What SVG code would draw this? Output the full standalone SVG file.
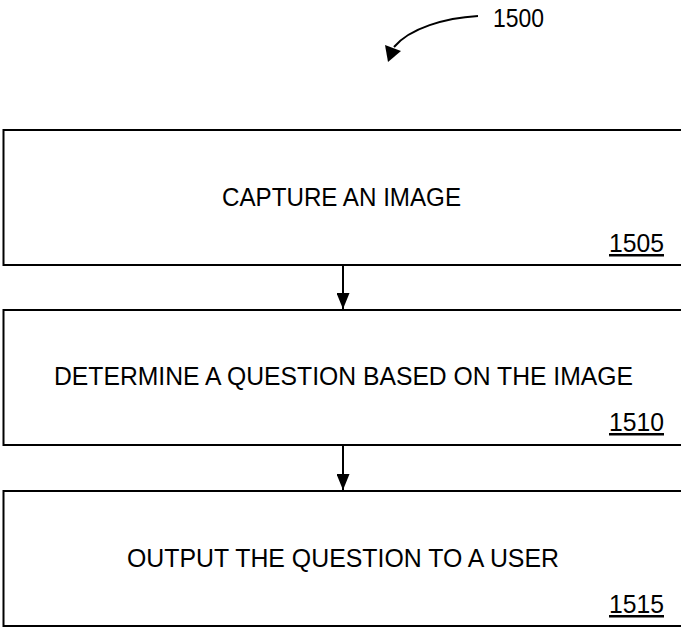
<svg xmlns="http://www.w3.org/2000/svg" width="681" height="628" viewBox="0 0 681 628">
<style>
.box{fill:#fff;stroke:#000;stroke-width:2}
.t{font-family:"Liberation Sans",Arial,sans-serif;font-size:25px;fill:#000}
.n{font-family:"Liberation Sans",Arial,sans-serif;font-size:25px;fill:#000;text-decoration:underline}
.ln{stroke:#000;stroke-width:2;fill:none}
</style>
<defs>
<marker id="ah" markerWidth="16" markerHeight="13" refX="16" refY="6.5" orient="auto" markerUnits="userSpaceOnUse" viewBox="0 0 16 13">
<path d="M0,0 L16,6.5 L0,13 Z" fill="#000"/>
</marker>
</defs>
<rect width="681" height="628" fill="#fff"/>
<g id="ref1500">
<path class="ln" d="M478,16 C445,18 410,28 394,47"/>
<polygon points="388,62 385,45 401,51" fill="#000"/>
<text class="t" x="493" y="27" textLength="51" lengthAdjust="spacingAndGlyphs">1500</text>
</g>
<g id="n1505">
<rect class="box" x="3.5" y="130" width="700" height="135"/>
<text class="t" x="222" y="206" textLength="239" lengthAdjust="spacingAndGlyphs">CAPTURE AN IMAGE</text>
<text class="n" x="609" y="252" textLength="55" lengthAdjust="spacingAndGlyphs">1505</text>
</g>
<g id="n1510">
<rect class="box" x="3.5" y="310" width="700" height="135"/>
<text class="t" x="54" y="385" textLength="579" lengthAdjust="spacingAndGlyphs">DETERMINE A QUESTION BASED ON THE IMAGE</text>
<text class="n" x="609" y="431" textLength="55" lengthAdjust="spacingAndGlyphs">1510</text>
</g>
<g id="n1515">
<rect class="box" x="3.5" y="491" width="700" height="135"/>
<text class="t" x="127" y="567" textLength="432" lengthAdjust="spacingAndGlyphs">OUTPUT THE QUESTION TO A USER</text>
<text class="n" x="609" y="613" textLength="55" lengthAdjust="spacingAndGlyphs">1515</text>
</g>
<g id="connectors">
<line class="ln" x1="343" y1="265" x2="343" y2="309" marker-end="url(#ah)"/>
<line class="ln" x1="343" y1="445" x2="343" y2="490" marker-end="url(#ah)"/>
</g>
</svg>
